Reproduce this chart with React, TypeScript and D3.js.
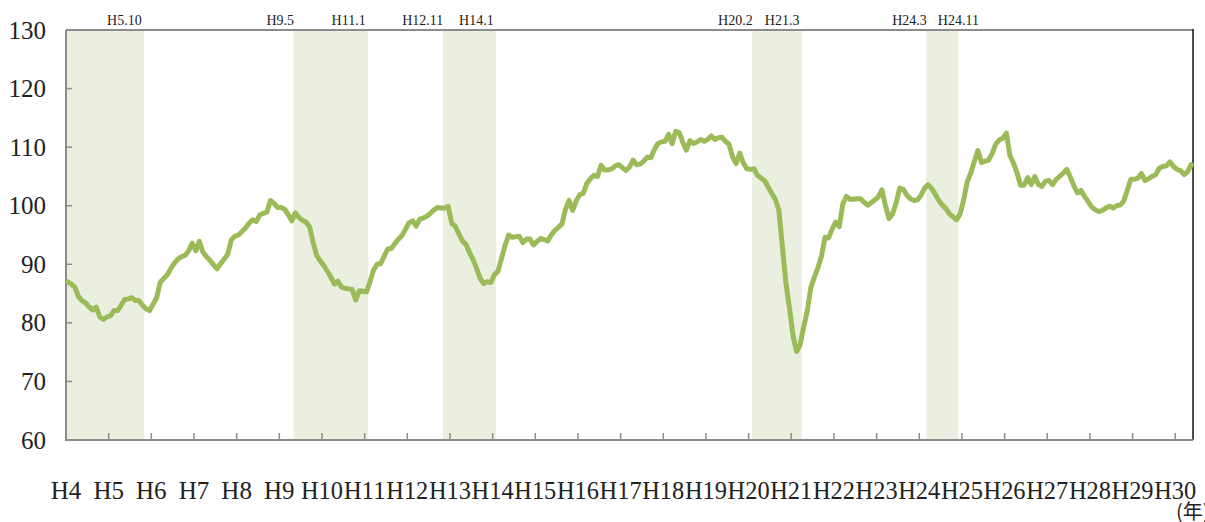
import * as d3 from 'd3';

// 平成 year labels on the x axis (one per January)
const yearLabels = [
  'H4', 'H5', 'H6', 'H7', 'H8', 'H9', 'H10', 'H11', 'H12', 'H13', 'H14', 'H15', 'H16', 'H17',
  'H18', 'H19', 'H20', 'H21', 'H22', 'H23', 'H24', 'H25', 'H26', 'H27', 'H28', 'H29', 'H30',
];

// monthly index values
const v1992 = [87.0, 86.6, 86.1, 84.5, 83.8, 83.4, 82.7, 82.2, 82.7, 81.0, 80.6, 81.0];
const v1993 = [81.2, 82.1, 82.1, 83.0, 84.0, 84.1, 84.3, 83.8, 83.8, 83.0, 82.4, 82.1];
const v1994 = [83.2, 84.3, 86.9, 87.6, 88.2, 89.3, 90.2, 90.9, 91.3, 91.5, 92.3, 93.6];
const v1995 = [92.3, 93.9, 92.1, 91.3, 90.7, 89.9, 89.2, 90.1, 90.9, 91.7, 94.2, 94.8];
const v1996 = [95.0, 95.6, 96.2, 97.0, 97.6, 97.3, 98.4, 98.7, 98.9, 100.9, 100.4, 99.7];
const v1997 = [99.7, 99.4, 98.5, 97.4, 98.8, 98.0, 97.5, 97.2, 96.4, 93.8, 91.5, 90.6];
const v1998 = [89.8, 88.8, 87.8, 86.6, 87.1, 86.1, 85.9, 85.8, 85.7, 83.9, 85.5, 85.4];
const v1999 = [85.3, 87.0, 89.0, 90.0, 90.1, 91.4, 92.6, 92.7, 93.5, 94.3, 94.9, 96.0];
const v2000 = [97.1, 97.4, 96.5, 97.7, 97.9, 98.2, 98.7, 99.3, 99.7, 99.6, 99.6, 99.9];
const v2001 = [97.0, 96.5, 95.2, 94.0, 93.4, 92.0, 90.8, 89.3, 87.6, 86.7, 87.0, 86.9];
const v2002 = [88.2, 88.8, 91.0, 93.2, 95.0, 94.6, 94.7, 94.8, 93.7, 94.3, 94.3, 93.3];
const v2003 = [93.9, 94.4, 94.2, 94.0, 95.0, 95.8, 96.3, 96.9, 99.4, 100.9, 99.2, 100.8];
const v2004 = [101.9, 102.1, 103.8, 104.6, 105.2, 105.0, 106.9, 106.1, 106.1, 106.3, 106.8, 107.0];
const v2005 = [106.5, 106.0, 106.6, 107.8, 107.0, 107.1, 107.6, 108.3, 108.2, 109.6, 110.6, 110.9];
const v2006 = [111.0, 112.2, 110.6, 112.7, 112.5, 110.8, 109.5, 111.1, 110.6, 110.9, 111.3, 111.0];
const v2007 = [111.3, 111.9, 111.3, 111.6, 111.7, 111.0, 110.5, 108.3, 107.2, 109.0, 107.3, 106.3];
const v2008 = [106.2, 106.3, 105.2, 104.7, 104.3, 103.2, 102.1, 101.1, 99.3, 93.0, 86.8, 82.5];
const v2009 = [77.8, 75.1, 76.3, 79.3, 82.0, 86.0, 87.8, 89.4, 91.4, 94.6, 94.5, 96.0];
const v2010 = [97.2, 96.4, 100.3, 101.6, 101.1, 101.1, 101.2, 101.2, 100.6, 100.1, 100.5, 101.0];
const v2011 = [101.5, 102.7, 100.0, 97.8, 98.6, 100.5, 103.0, 102.8, 101.8, 101.2, 100.9, 101.0];
const v2012 = [101.8, 103.0, 103.6, 102.9, 102.0, 100.9, 100.1, 99.5, 98.6, 98.1, 97.6, 98.6];
const v2013 = [101.0, 104.1, 105.6, 107.6, 109.4, 107.4, 107.6, 107.8, 108.9, 110.5, 111.2, 111.5];
const v2014 = [112.4, 108.6, 107.3, 105.6, 103.5, 103.5, 104.8, 103.6, 105.0, 103.6, 103.3, 104.2];
const v2015 = [104.3, 103.6, 104.5, 105.0, 105.6, 106.2, 104.9, 103.4, 102.2, 102.6, 101.6, 100.7];
const v2016 = [99.8, 99.3, 99.0, 99.2, 99.6, 99.9, 99.6, 100.0, 100.1, 100.8, 102.6, 104.5];
const v2017 = [104.5, 104.7, 105.5, 104.3, 104.6, 105.0, 105.3, 106.4, 106.7, 106.8, 107.5, 106.7];
const v2018 = [106.2, 106.0, 105.3, 105.8, 107.0];

const series = [
  ...v1992, ...v1993, ...v1994, ...v1995, ...v1996, ...v1997, ...v1998, ...v1999, ...v2000,
  ...v2001, ...v2002, ...v2003, ...v2004, ...v2005, ...v2006, ...v2007, ...v2008, ...v2009,
  ...v2010, ...v2011, ...v2012, ...v2013, ...v2014, ...v2015, ...v2016, ...v2017, ...v2018,
];

// recession periods (peak / trough months)
const peaks = ['H3.2', 'H9.5', 'H12.11', 'H20.2', 'H24.3'];
const troughs = ['H5.10', 'H11.1', 'H14.1', 'H21.3', 'H24.11'];

const W = 1205;
const H = 522;
const left = 66;
const right = 1193;
const top = 30;
const bottom = 440;
const font = 'Liberation Serif, DejaVu Serif, serif';
const cjkFont = 'Noto Sans CJK JP, sans-serif';

// "H5.10" -> months since H4.1
function monthIndex(s: string) {
  const [y, m] = s.slice(1).split('.').map(Number);
  return (y - 4) * 12 + (m - 1);
}

export default function App() {
  const x = d3.scaleLinear().domain([0, series.length]).range([left, right]);
  const y = d3.scaleLinear().domain([60, 130]).range([bottom, top]);

  const line = d3.line<number>()
    .x((_, i) => x(i + 0.5))
    .y(d => y(d));

  const bands = peaks.map((p, k) => {
    const s = Math.max(0, monthIndex(p));
    const e = monthIndex(troughs[k]) + 1;
    return { p, t: troughs[k], showPeak: monthIndex(p) >= 0, x0: x(s), x1: x(e) };
  });

  return (
    <svg width={W} height={H} style={{ position: 'absolute', left: 0, top: 0, fontFamily: font }}>
      {bands.map(b => (
        <rect key={b.t} x={b.x0} y={top} width={b.x1 - b.x0} height={bottom - top} fill="#ebefe0" />
      ))}

      {bands.map(b => {
        const narrow = b.x1 - b.x0 < 40;
        return (
          <g key={'l' + b.t} fontSize={14} fill="#222">
            {b.showPeak && (
              <text x={b.x0 + 0.5} y={25} textAnchor="end">{b.p}</text>
            )}
            <text x={narrow ? b.x1 : b.x1 - 2.5} y={25} textAnchor={narrow ? 'middle' : 'end'}>{b.t}</text>
          </g>
        );
      })}

      {/* frame */}
      <line x1={left} x2={right} y1={top} y2={top} stroke="#8c8c8c" strokeWidth={2} />
      <line x1={right} x2={right} y1={top - 1} y2={bottom} stroke="#111" strokeWidth={1.5} />

      {/* y axis */}
      <line x1={left} x2={left} y1={top} y2={bottom + 1} stroke="#8c8c8c" strokeWidth={2} />
      {y.ticks(7).map(t => (
        <g key={'y' + t}>
          <line x1={left} x2={left + 6} y1={y(t)} y2={y(t)} stroke="#8c8c8c" strokeWidth={1.5} />
          <text x={46} y={y(t) + 8.5} textAnchor="end" fontSize={25} fill="#222">{t}</text>
        </g>
      ))}

      {/* x axis */}
      <line x1={left} x2={right} y1={bottom} y2={bottom} stroke="#8c8c8c" strokeWidth={2} />
      {yearLabels.map((lab, k) => (
        <g key={lab}>
          <line x1={x(k * 12)} x2={x(k * 12)} y1={bottom} y2={bottom - 7} stroke="#8c8c8c" strokeWidth={1.5} />
          <text x={x(k * 12)} y={499} textAnchor="middle" fontSize={25} fill="#222"
            textLength={lab.length > 2 ? 42 : undefined} lengthAdjust="spacingAndGlyphs">{lab}</text>
        </g>
      ))}
      <text x={1176} y={519} fontSize={20} fill="#222" style={{ fontFamily: cjkFont }}>(年)</text>

      <path d={line(series) || undefined} fill="none" stroke="#9bbb59" strokeWidth={5}
        strokeLinejoin="round" strokeLinecap="round" />
    </svg>
  );
}
